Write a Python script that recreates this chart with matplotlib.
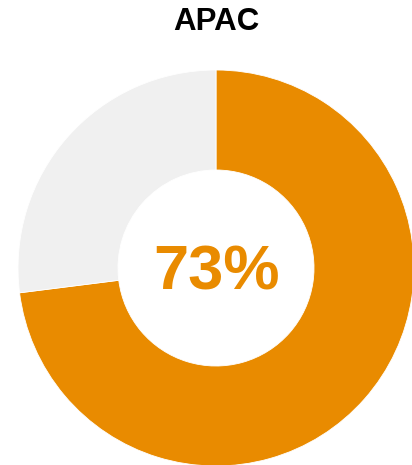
import matplotlib
matplotlib.use("Agg")
from matplotlib import pyplot as plt

plt.rcParams['font.family'] = ['Liberation Sans', 'DejaVu Sans']

# Share of the region
region = "APAC"
share = 73
values = [share, 100 - share]
colors = ["#E98B00", "#F0F0F0"]

W, H = 412, 465
fig = plt.figure(figsize=(W / 100, H / 100), dpi=100)

# donut centred at (216, 268) px with outer radius 198 px
cx, cy, r = 216, 268, 198
ax = fig.add_axes([(cx - r) / W, (H - cy - r) / H, 2 * r / W, 2 * r / H])
ax.pie(values, colors=colors, startangle=90, counterclock=False, radius=1,
       wedgeprops=dict(width=0.505, edgecolor="white", linewidth=0.6))
ax.set_xlim(-1, 1)
ax.set_ylim(-1, 1)
ax.set_aspect("equal")
ax.axis("off")

ax.text(0, -0.025, f"{share}%", ha="center", va="center", fontsize=45.5,
        fontweight="bold", color=colors[0])

fig.text(216 / W, 1 - 22 / H, region, ha="center", va="center",
         fontsize=22.5, fontweight="bold", color="black")

fig.savefig("out.png", dpi=100)
